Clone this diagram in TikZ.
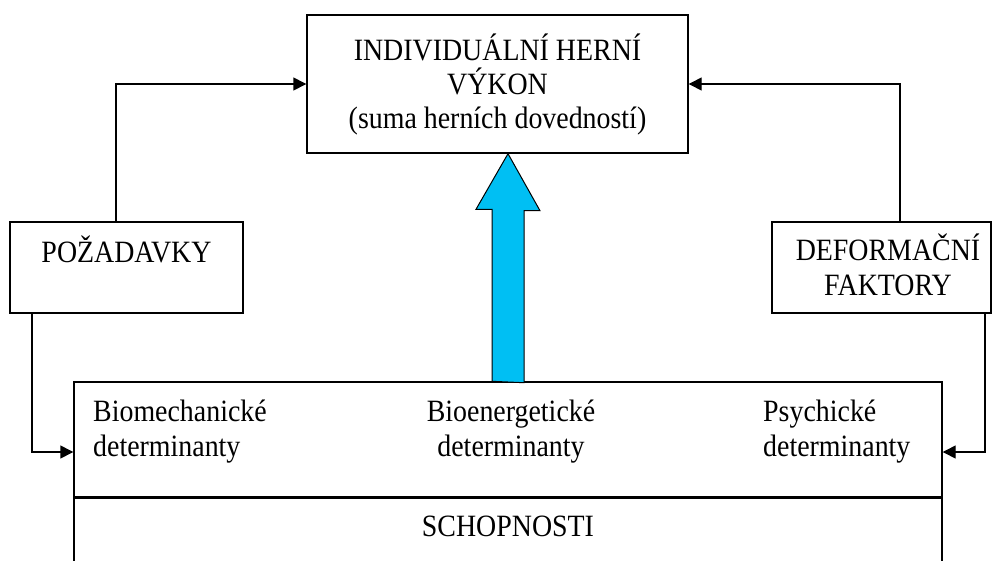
\documentclass[tikz,border=0pt]{standalone}
\usepackage{fontspec}
\setmainfont{Liberation Serif}[FakeStretch=0.9]
\usetikzlibrary{arrows.meta,calc}
\begin{document}
\begin{tikzpicture}[x=1pt,y=-1pt,
  box/.style={draw, line width=1.4pt, inner sep=0pt, align=center},
  conn/.style={line width=1.4pt, -{Triangle[length=13pt,width=13pt]}},
  txt/.style={font=\fontsize{31}{34}\selectfont, inner sep=0pt},
  bigarrow/.style={fill={rgb,255:red,0;green,191;blue,243}, draw=black, line width=1pt, line join=miter}]
\useasboundingbox (0,0) rectangle (992,560);
\clip (0,0) rectangle (992,560);
% boxes
\node[box, txt, minimum width=381pt, minimum height=138pt] (top) at (497.5,84)
  {INDIVIDUÁLNÍ HERNÍ\\VÝKON\\(suma herních dovedností)};
\node[box, minimum width=233pt, minimum height=91pt] (poz) at (126.5,267.5) {};
\node[box, minimum width=219pt, minimum height=91pt] (def) at (881.5,267.5) {};
\node[box, minimum width=868pt, minimum height=115pt] (dets) at (508,439.5) {};
\node[box, minimum width=868pt, minimum height=110pt, anchor=north] (schop) at (dets.south) {};
% texts
\node[txt, anchor=base] (poztxt) at (126.5,262) {POŽADAVKY};
\node[txt, anchor=base] (deftxt1) at (888,260) {DEFORMAČNÍ};
\node[txt, anchor=base] (deftxt2) at (888,295) {FAKTORY};
\node[txt, anchor=base west] (bio1) at (93,421) {Biomechanické};
\node[txt, anchor=base west] (bio2) at (93,456) {determinanty};
\node[txt, anchor=base] (ene1) at (511,421) {Bioenergetické};
\node[txt, anchor=base] (ene2) at (511,456) {determinanty};
\node[txt, anchor=base west] (psy1) at (763,421) {Psychické};
\node[txt, anchor=base west] (psy2) at (763,456) {determinanty};
\node[txt, anchor=base] (schoptxt) at (508,536) {SCHOPNOSTI};
% connectors
\draw[conn] ([xshift=-10.5pt]poz.north) |- (top.west);
\draw[conn] ([xshift=-94.5pt]poz.south) |- ([yshift=-12.5pt]dets.west);
\draw[conn] ([xshift=18.5pt]def.north) |- (top.east);
\draw[conn] ([xshift=103.5pt]def.south) |- ([yshift=-12.5pt]dets.east);
% big blue arrow
\draw[bigarrow] (dets.north) ++(-16,0) -- ++(0,-172) -- ++(-16,0)
  -- (top.south -| dets.north) -- ++(32,57) -- ++(-16,0) -- ++(0,172) -- cycle;
\end{tikzpicture}
\end{document}
